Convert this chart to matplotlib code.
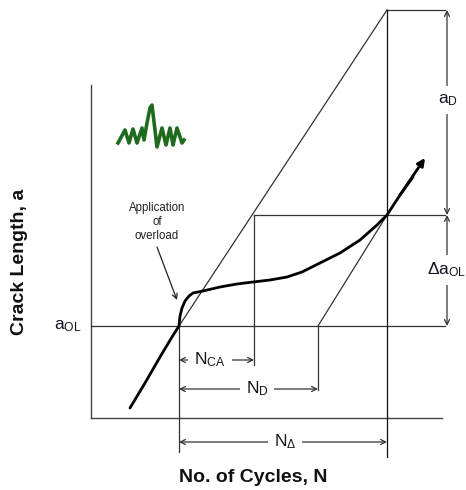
import matplotlib
matplotlib.use("Agg")
import matplotlib.pyplot as plt

plt.rcParams["font.family"] = ["Liberation Sans", "DejaVu Sans"]
plt.rcParams["mathtext.fontset"] = "custom"
plt.rcParams["mathtext.rm"] = "Liberation Sans"
plt.rcParams["mathtext.it"] = "Liberation Sans:italic"
plt.rcParams["mathtext.bf"] = "Liberation Sans:bold"

# schematic values (arbitrary units: N = cycles, a = crack length)
N_OL = 8.8          # cycle count at overload
a_OL = 9.2          # crack length at overload
N_CA = 16.3         # end of crack arrest interval
N_D = 22.7          # end of delay interval
N_DELTA = 29.6      # where delayed curve rejoins baseline slope
a_JOIN = 20.3       # crack length at rejoin
a_TOP = 40.8        # top of baseline extrapolation
N_MAX = 35.4
a_MAX = 33.3

# measured crack growth curve
crack_N = [3.9, 5.4, 6.9, 8.1, 8.8, 8.9, 9.1, 9.4, 9.8, 10.2, 11.2, 12.9, 14.6,
           16.2, 17.9, 19.6, 21.1, 22.9, 24.9, 26.9, 28.6, 29.6, 30.9, 32.2, 33.4]
crack_a = [1.0, 3.5, 6.1, 8.1, 9.2, 10.2, 11.0, 11.7, 12.2, 12.5, 12.7, 13.1, 13.4,
           13.6, 13.8, 14.1, 14.6, 15.5, 16.5, 17.8, 19.3, 20.3, 22.3, 24.1, 26.0]

# load history icon (time, load)
load_t = [118, 125, 129, 133, 137, 142, 144, 147, 150, 152, 157, 162, 166, 170, 173, 177, 182, 184]
load_v = [7, 20, 7, 21, 7, 22, 10, 27, 42, 45, 3, 22, 5, 22, 5, 22, 7, 10]

line_c = "#333333"
txt_c = "#15151f"

fig = plt.figure(figsize=(4.66, 4.90), dpi=100)
ax = fig.add_axes([0, 0, 1, 1])
ax.set_xlim(-9.1, 37.5)
ax.set_ylim(-7.2, 41.8)
ax.axis("off")

thin = dict(color=line_c, lw=0.9)

# axes of the sketch
ax.plot([0, 0], [0, a_MAX], color="#444444", lw=1.0)
ax.plot([0, 35.1], [0, 0], color="#444444", lw=1.0)

# construction lines
ax.plot([0, N_MAX], [a_OL, a_OL], **thin)
ax.plot([N_OL, N_DELTA], [a_OL, a_TOP], **thin)
ax.plot([N_DELTA, N_MAX], [a_TOP, a_TOP], **thin)
ax.plot([N_CA, N_MAX], [a_JOIN, a_JOIN], **thin)
ax.plot([N_D, N_DELTA], [a_OL, a_JOIN], **thin)
ax.plot([N_OL, N_OL], [a_OL, -3.4], **thin)
ax.plot([N_DELTA, N_DELTA], [a_TOP, -3.9], color="#111111", lw=0.9)
ax.plot([N_CA, N_CA], [a_JOIN, 5.3], **thin)
ax.plot([N_D, N_D], [a_OL, 2.8], **thin)

# crack growth curve
ax.plot(crack_N[:-1], crack_a[:-1], color="black", lw=2.0, solid_capstyle="round")
ax.annotate("", xy=(crack_N[-1], crack_a[-1]), xytext=(crack_N[-3], crack_a[-3]),
            arrowprops=dict(arrowstyle="-|>", color="black", lw=2.0,
                            mutation_scale=11, shrinkA=0, shrinkB=0))

# dimension arrows
def dim(p0, p1, label, pos, fs=12.5):
    ax.annotate("", xy=p1, xytext=p0,
                arrowprops=dict(arrowstyle="<->", color=line_c, lw=0.9,
                                mutation_scale=9, shrinkA=0, shrinkB=0))
    ax.text(pos[0], pos[1], label, ha="center", va="center", fontsize=fs,
            color=txt_c,
            bbox=dict(boxstyle="square,pad=0.35", fc="white", ec="none"))

dim((N_OL, 5.8), (N_CA, 5.8), r"N$_{\mathrm{CA}}$", (11.9, 5.8))
dim((N_OL, 2.9), (N_D, 2.9), r"N$_{\mathrm{D}}$", (16.6, 2.9))
dim((N_OL, -2.4), (N_DELTA, -2.4), r"N$_{\mathrm{Δ}}$", (19.4, -2.4))
dim((35.6, a_TOP), (35.6, a_JOIN), r"a$_{\mathrm{D}}$", (35.7, 31.8))
dim((35.6, a_JOIN), (35.6, a_OL), r"Δa$_{\mathrm{OL}}$", (35.6, 14.8))

ax.text(-0.9, a_OL, r"a$_{\mathrm{OL}}$", ha="right", va="center", fontsize=12.5,
        color=txt_c)

# annotation of overload
ax.text(6.6, 19.6, "Application\nof\noverload", ha="center", va="center",
        fontsize=8.3, linespacing=1.25, color="#222222")
ax.annotate("", xy=(8.6, 11.8), xytext=(6.6, 17.1),
            arrowprops=dict(arrowstyle="->", color="#222222", lw=0.9,
                            mutation_scale=9, shrinkA=0, shrinkB=0))

# axis titles
ax.text(-7.1, 15.6, "Crack Length, a", rotation=90, ha="center", va="center",
        fontsize=14, fontweight="bold", color="#111111")
ax.text(16.2, -5.9, "No. of Cycles, N", ha="center", va="center",
        fontsize=14, fontweight="bold", color="#111111")

# load history icon
ins = ax.inset_axes([2.4, 26.8, 7.2, 5.0], transform=ax.transData)
ins.plot(load_t, load_v, color="#1e6b1e", lw=2.6, clip_on=False,
         solid_joinstyle="round")
ins.set_xlim(115, 187)
ins.set_ylim(0, 50)
ins.axis("off")

fig.savefig("out.png", dpi=100)
